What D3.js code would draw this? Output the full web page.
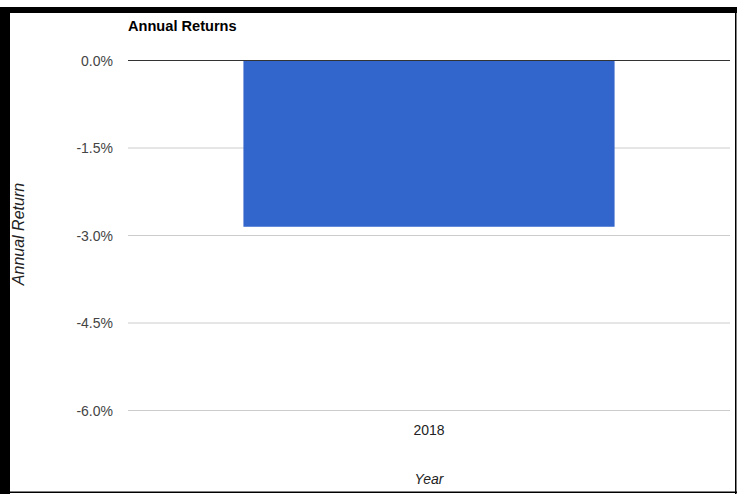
<!DOCTYPE html>
<html><head><meta charset="utf-8">
<script src="https://cdn.jsdelivr.net/npm/d3@7"></script>
<style>body{margin:0;background:#fff;} svg{display:block;font-family:"Liberation Sans",Arial,sans-serif;}</style>
</head><body>
<script>
const categories = ["2018"];
const values = [-2.85];
const yTicks = [0, -1.5, -3, -4.5, -6];
const title = "Annual Returns";
const xTitle = "Year";
const yTitle = "Annual Return";

const W = 737, H = 494;
const svg = d3.select("body").append("svg").attr("width", W).attr("height", H);

// frame
svg.append("rect").attr("x",0).attr("y",7).attr("width",W).attr("height",6).attr("fill","#000");
svg.append("rect").attr("x",0).attr("y",7).attr("width",10).attr("height",H-7).attr("fill","#000");
svg.append("rect").attr("x",735).attr("y",7).attr("width",1.5).attr("height",H-7).attr("fill","#000");
svg.append("rect").attr("x",0).attr("y",491.5).attr("width",W).attr("height",1.5).attr("fill","#000");

const x = d3.scaleBand().domain(categories).range([128, 730]).paddingInner(0).paddingOuter(0.311);
const y = d3.scaleLinear().domain([0, -6]).range([60.5, 410.5]);

// gridlines
svg.append("g").selectAll("line").data(yTicks.filter(d=>d!==0)).join("line")
  .attr("x1",128).attr("x2",730).attr("y1",d=>y(d)).attr("y2",d=>y(d))
  .attr("stroke","#cccccc").attr("stroke-width",1);

// bars
svg.append("g").selectAll("rect").data(values).join("rect")
  .attr("x",(d,i)=>x(categories[i])).attr("width",x.bandwidth())
  .attr("y",d=>y(Math.max(0,d))).attr("height",d=>Math.abs(y(d)-y(0)))
  .attr("fill","#3366cc");

// zero line
svg.append("line").attr("x1",128).attr("x2",730).attr("y1",y(0)).attr("y2",y(0))
  .attr("stroke","#333").attr("stroke-width",1);

// y axis labels
const fmt = d => (d < 0 ? "-" : "") + Math.abs(d).toFixed(1) + "%";
const yAxis = d3.axisLeft(y).tickValues(yTicks).tickFormat(fmt).tickSize(0).tickPadding(0);
const gy = svg.append("g").attr("transform","translate(113,0)").call(yAxis);
gy.select(".domain").remove();
gy.selectAll("text").attr("font-size",14).attr("fill","#444").attr("font-family","Liberation Sans, Arial, sans-serif").attr("dy","0.35em");

// x axis labels
const xAxis = d3.axisBottom(x).tickSize(0).tickPadding(0);
const gx = svg.append("g").attr("transform","translate(0,425)").call(xAxis);
gx.select(".domain").remove();
gx.selectAll("text").attr("font-size",14).attr("fill","#222").attr("font-family","Liberation Sans, Arial, sans-serif").attr("dy","0.71em");

// titles
svg.append("text").attr("x",128).attr("y",31).attr("font-size",14.6).attr("font-weight","bold").attr("fill","#000").text(title);
svg.append("text").attr("x",429).attr("y",484).attr("text-anchor","middle").attr("font-size",14).attr("font-style","italic").attr("fill","#222").text(xTitle);
svg.append("text").attr("transform","translate(24,234) rotate(-90)").attr("text-anchor","middle").attr("font-size",16).attr("font-style","italic").attr("fill","#222").text(yTitle);
</script>
</body></html>
